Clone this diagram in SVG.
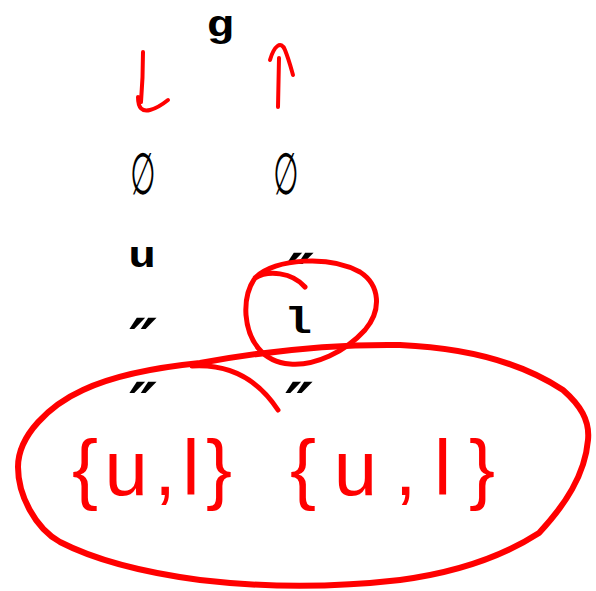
<svg xmlns="http://www.w3.org/2000/svg" width="596" height="591" viewBox="0 0 596 591">
<style>
.tt{font-family:"Liberation Mono","Courier New",monospace;font-weight:bold;font-size:37px;fill:#000}
.es{font-family:"DejaVu Sans",sans-serif;font-size:58px;fill:#000}
.dm{font-family:"DejaVu Sans",sans-serif;font-style:italic;font-weight:bold;font-size:62px;fill:#000}
.ink{fill:none;stroke:#ff0000;stroke-linecap:round;stroke-linejoin:round}
.hw{font-family:"Liberation Sans",Arial,sans-serif;font-size:78px;fill:#ff0000}
</style>
<rect width="596" height="591" fill="#fff"/>
<g id="node-g"><text class="tt" text-anchor="middle" transform="translate(220 36) scale(1.25 1)">g</text></g>
<g id="node-empty-left"><text class="es" text-anchor="middle" transform="translate(143 194) scale(0.5 1)">∅</text></g>
<g id="node-empty-right"><text class="es" text-anchor="middle" transform="translate(286 194) scale(0.5 1)">∅</text></g>
<g id="node-u"><text class="tt" text-anchor="middle" transform="translate(142 267) scale(1.25 1)">u</text></g>
<g id="node-ditto-r2"><text class="dm" x="300" y="298" text-anchor="middle">″</text></g>
<g id="node-ditto-l3"><text class="dm" x="143" y="363" text-anchor="middle">″</text></g>
<g id="node-l"><text class="tt" text-anchor="middle" transform="translate(298 333) scale(1.25 1)">l</text></g>
<g id="node-ditto-l4"><text class="dm" x="143" y="427" text-anchor="middle">″</text></g>
<g id="node-ditto-r4"><text class="dm" x="299" y="427" text-anchor="middle">″</text></g>
<g id="connectors">
<path class="ink" stroke-width="4" d="M143,52 C143,72 142,90 141,102 M138,97 C138,108 142,112 150,110 C158,108 163,104 168,100"/>
<path class="ink" stroke-width="4" d="M278,107 L279,58 M270,60 C274,46 281,40 285,50 C289,60 291,68 293,75"/>
<path class="ink" stroke-width="5" d="M305,287 C292,272 268,270 255,278 C275,258 330,255 360,272 C380,285 382,310 365,330 C345,352 315,366 290,364 C262,362 248,340 246,315 C245,300 248,288 255,278"/>
<path class="ink" stroke-width="6" d="M18,467 C18,435 50,405 83,390 C115,375 160,367 200,363 C260,352 330,344 400,345 C470,348 525,365 563,390 C580,405 590,420 588,440 C585,475 565,505 539,533 C505,555 460,572 400,580 C330,588 260,587 200,580 C140,572 95,560 60,542 C35,528 18,495 18,467 Z"/>
<path class="ink" stroke-width="5" d="M192,366 C225,364 255,375 278,410"/>
</g>
<g id="annotation">
<text class="hw" x="72" y="495" textLength="160" lengthAdjust="spacing">{u,l}</text>
<text class="hw" x="290" y="495" textLength="205" lengthAdjust="spacing">{u,l}</text>
</g>
</svg>
